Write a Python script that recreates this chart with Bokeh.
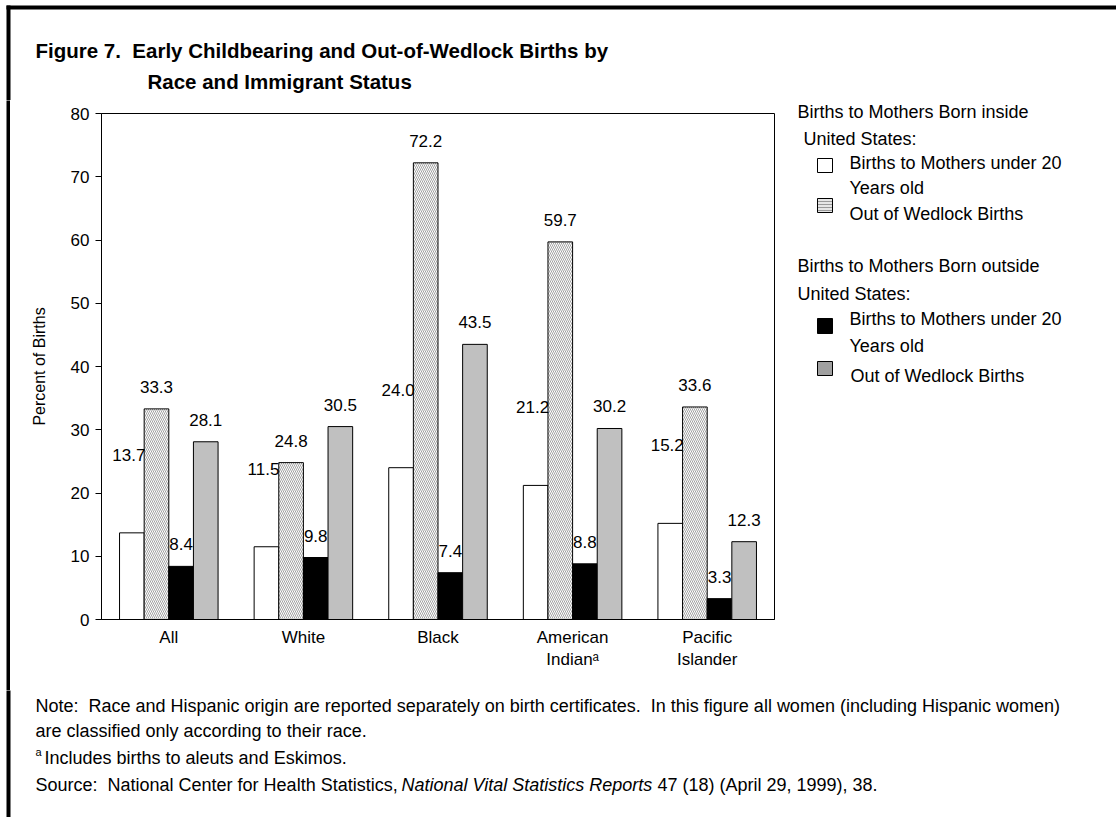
from bokeh.plotting import figure
from bokeh.layouts import column, row
from bokeh.models import FactorRange, Range1d, ColumnDataSource, SingleIntervalTicker
from bokeh.core.properties import value
from bokeh.transform import dodge
from bokeh.embed import file_html
from bokeh.resources import INLINE

# ---- data ----
categories = ["All", "White", "Black", "American\nIndian\u1d43", "Pacific\nIslander"]
inside_under20 = [13.7, 11.5, 24.0, 21.2, 15.2]
inside_wedlock = [33.3, 24.8, 72.2, 59.7, 33.6]
outside_under20 = [8.4, 9.8, 7.4, 8.8, 3.3]
outside_wedlock = [28.1, 30.5, 43.5, 30.2, 12.3]
y_min, y_max, y_step = 0, 80, 10

FONT = "Liberation Sans"
BORDER = "black"
SP2 = " \u00a0"  # double space that survives SVG whitespace collapsing


# ---------- helper canvases (page-pixel coordinates) ----------
def blank(w, h, x0, y0):
    f = figure(width=w, height=h, x_range=Range1d(x0, x0 + w), y_range=Range1d(y0 + h, y0),
               output_backend="svg", toolbar_location=None, min_border=0,
               x_axis_location=None, y_axis_location=None, frame_align=False)
    f.outline_line_color = None
    f.xgrid.visible = False
    f.ygrid.visible = False
    f.background_fill_color = "white"
    f.border_fill_color = "white"
    return f


def txt(f, s, X, Y, size="18px", style="normal", align="left"):
    f.text(x=[X], y=[Y], text=[s], text_font=value(FONT), text_font_size=value(size),
           text_font_style=style, text_align=align, text_baseline="middle", text_color="black")


TOP_H, MID_H, BOT_H = 100, 590, 127
TOTAL_W = 1116
MAIN_W = 780
LEFT_W = 10

# ---------- top strip: title ----------
top = blank(TOTAL_W, TOP_H, 0, 0)
top.quad(left=[6], right=[TOTAL_W + 5], top=[5], bottom=[9], fill_color=BORDER, line_color=None)
top.quad(left=[6], right=[10], top=[5], bottom=[TOP_H + 5], fill_color=BORDER, line_color=None)
txt(top, "Figure 7." + SP2 + "Early Childbearing and Out-of-Wedlock Births by", 35, 50, "20.5px", "bold")
txt(top, "Race and Immigrant Status", 147, 81, "20.5px", "bold")

# ---------- left strip ----------
left = blank(LEFT_W, MID_H, 0, TOP_H)
left.quad(left=[6], right=[10], top=[TOP_H - 5], bottom=[TOP_H + MID_H + 5],
          fill_color=BORDER, line_color=None)

# ---------- main chart ----------
p = figure(x_range=FactorRange(*categories), y_range=Range1d(y_min, y_max),
           width=MAIN_W, height=MID_H, output_backend="svg", toolbar_location=None,
           min_border_left=91, min_border_right=16, min_border_top=13, min_border_bottom=71,
           frame_align=False)
p.xgrid.grid_line_color = None
p.ygrid.grid_line_color = None
p.outline_line_color = "black"
p.outline_line_width = 1
p.background_fill_color = "white"
p.border_fill_color = "white"

ya = p.yaxis[0]
ya.ticker = SingleIntervalTicker(interval=y_step)
ya.minor_tick_line_color = None
ya.major_tick_in = 0
ya.major_tick_out = 6
ya.axis_line_color = "black"
ya.major_tick_line_color = "black"
ya.major_label_text_font = FONT
ya.major_label_text_font_size = "17px"
ya.major_label_text_color = "black"
ya.major_label_standoff = 6
ya.axis_label = "Percent of Births"
ya.axis_label_text_font = FONT
ya.axis_label_text_font_size = "16px"
ya.axis_label_text_font_style = "normal"
ya.axis_label_text_color = "black"
ya.axis_label_standoff = 20

xa = p.xaxis[0]
xa.major_tick_in = 0
xa.major_tick_out = 0
xa.axis_line_color = "black"
xa.major_label_text_font = FONT
xa.major_label_text_font_size = "17px"
xa.major_label_text_color = "black"
xa.major_label_standoff = 8

bw = 0.183
offsets = [-1.5 * bw, -0.5 * bw, 0.5 * bw, 1.5 * bw]
values = [inside_under20, inside_wedlock, outside_under20, outside_wedlock]
styles = [
    dict(fill_color="white"),
    dict(fill_color="white", hatch_pattern="left_diagonal_line", hatch_scale=4,
         hatch_weight=0.8, hatch_color="#8a8a8a"),
    dict(fill_color="black"),
    dict(fill_color="#c0c0c0"),
]
label_offsets = [-78, -22, -22, -22]
label_xshift = [-3, 0, 0, 0]

sources = []
for vals, off, st in zip(values, offsets, styles):
    src = ColumnDataSource(dict(x=categories, top=vals, lab=["%.1f" % v for v in vals]))
    sources.append(src)
    p.vbar(x=dodge("x", off, range=p.x_range), top="top", width=bw, source=src,
           line_color="black", line_width=1, **st)
for src, off, lo, xs in zip(sources, offsets, label_offsets, label_xshift):
    p.text(x=dodge("x", off, range=p.x_range), y="top", text="lab", source=src,
           text_align="center", text_baseline="middle", y_offset=lo, x_offset=xs,
           text_font=value(FONT), text_font_size=value("17px"), text_color="black")

# ---------- legend panel ----------
LX0 = LEFT_W + MAIN_W
leg = blank(TOTAL_W - LX0, MID_H, LX0, TOP_H)
txt(leg, "Births to Mothers Born inside", 797, 111)
txt(leg, "United States:", 803, 138)
txt(leg, "Births to Mothers under 20", 849, 162)
txt(leg, "Years old", 849, 187)
txt(leg, "Out of Wedlock Births", 849, 213)
txt(leg, "Births to Mothers Born outside", 797, 265)
txt(leg, "United States:", 797, 293)
txt(leg, "Births to Mothers under 20", 849, 318)
txt(leg, "Years old", 849, 345)
txt(leg, "Out of Wedlock Births", 850, 375)
leg.quad(left=[817], right=[832], top=[158], bottom=[172], fill_color="white", line_color="black")
leg.quad(left=[817], right=[832], top=[198], bottom=[212], fill_color="#e6e6e6", line_color="black",
         hatch_pattern="horizontal_line", hatch_scale=3, hatch_weight=1, hatch_color="#9a9a9a")
leg.quad(left=[817], right=[832], top=[318], bottom=[333], fill_color="black", line_color="black")
leg.quad(left=[817], right=[832], top=[361], bottom=[375], fill_color="#a0a0a0", line_color="black")

# ---------- bottom strip: notes ----------
y0 = TOP_H + MID_H
bot = blank(TOTAL_W, BOT_H, 0, y0)
bot.quad(left=[6], right=[10], top=[y0 - 5], bottom=[y0 + BOT_H + 5], fill_color=BORDER, line_color=None)
txt(bot, "Note:" + SP2 + "Race and Hispanic origin are reported separately on birth certificates." + SP2 +
    "In this figure all women (including Hispanic women)", 35, 705)
txt(bot, "are classified only according to their race.", 35, 730)
txt(bot, "a", 35, 751, "11px")
txt(bot, "Includes births to aleuts and Eskimos.", 44, 757)
txt(bot, "Source:" + SP2 + "National Center for Health Statistics,", 35, 784)
txt(bot, "National Vital Statistics Reports", 401, 784, "18px", "italic")
txt(bot, "47 (18) (April 29, 1999), 38.", 657, 784)

layout = column(top, row(left, p, leg), bot)
open("out.html", "w").write(file_html(layout, INLINE))
